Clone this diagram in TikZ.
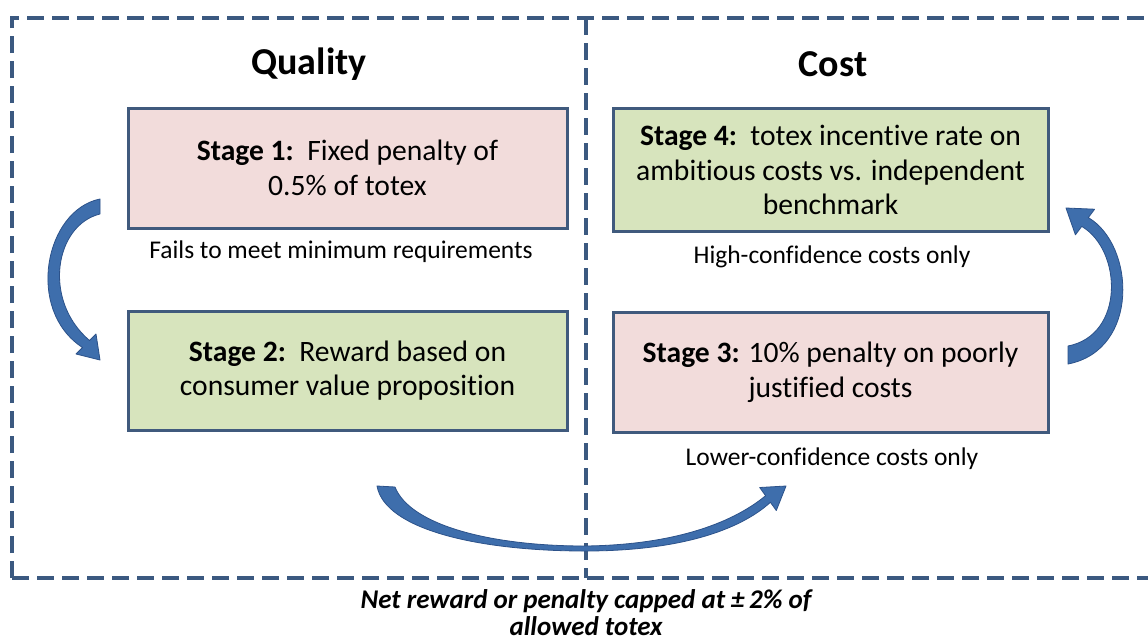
\documentclass[tikz,border=0pt]{standalone}
\usepackage{fontspec}
\setmainfont[Ligatures=NoCommon]{Carlito}
\definecolor{dashc}{RGB}{59,89,128}
\definecolor{boxline}{RGB}{64,90,125}
\definecolor{pinkf}{RGB}{242,220,219}
\definecolor{greenf}{RGB}{215,228,189}
\definecolor{arrowf}{RGB}{62,110,172}
\definecolor{arrowd}{RGB}{44,82,138}
\begin{document}
\begin{tikzpicture}[x=1pt,y=-1pt,
  frame/.style={draw=dashc, line width=3.5pt, dash pattern=on 17pt off 8pt},
  stagebox/.style={draw=boxline, line width=3pt, inner sep=0pt, align=center,
    font=\fontsize{29.6}{34.5}\selectfont},
  pinkbox/.style={stagebox, fill=pinkf},
  greenbox/.style={stagebox, fill=greenf},
  note/.style={font=\fontsize{25.5}{30}\selectfont, inner sep=0pt},
  heading/.style={font=\fontsize{38}{44}\selectfont\bfseries, inner sep=0pt},
  bigarrow/.style={fill=arrowf, draw=arrowd, line width=0.8pt, line join=round}]
\clip (0,0) rectangle (1148,641);
\fill[white] (0,0) rectangle (1148,641);

% dashed frame
\draw[frame] (12,578) -- (12,18) -- (1170,18);
\draw[frame] (12,578) -- (1170,578);
\draw[frame] (586,18) -- (586,578);

% headings
\node[heading] (qual) at (309,64) {Quality};
\node[heading] (cost) at (833,64) {Cost};

% boxes
\node[pinkbox, minimum width=439pt, minimum height=120pt] (s1) at (347.5,168)
  {\textbf{Stage 1:}\ \ Fixed penalty of\\0.5\% of totex};
\node[greenbox, minimum width=439pt, minimum height=119pt] (s2) at (347.5,370.5)
  {\textbf{Stage 2:}\ \ Reward based on\\consumer value proposition};
\node[greenbox, minimum width=435pt, minimum height=123pt] (s4) at (830.5,170)
  {\textbf{Stage 4:}\ \ totex incentive rate on\\ambitious costs vs. independent\\benchmark};
\node[pinkbox, minimum width=435pt, minimum height=120pt] (s3) at (830.5,372)
  {\textbf{Stage 3:} 10\% penalty on poorly\\justified costs};

% notes
\node[note] (n1) at (341,252) {Fails to meet minimum requirements};
\node[note] (n4) at (832,257) {High-confidence costs only};
\node[note] (n3) at (832,459) {Lower-confidence costs only};

% bottom caption
\node[font=\fontsize{27}{27}\selectfont\bfseries\itshape, align=center, inner sep=0pt, anchor=north]
  (cap) at (586,589) {Net reward or penalty capped at ±\,2\% of\\allowed totex};

% curved arrows
\coordinate (a1s) at (100,207);
\coordinate (a1e) at (100,360);
\draw[bigarrow] (100,199) .. controls (45,210) and (25,310) .. (82.5,347.5)
  -- (76,354) -- (a1e) -- (96,334) -- (89.5,340.5)
  .. controls (42,300) and (55,225) .. (100,214) -- cycle;

\coordinate (a2s) at (378,487);
\coordinate (a2e) at (786,486);
\draw[bigarrow] (377,486) .. controls (385,530) and (480,551) .. (585,551)
  .. controls (680,551) and (740,530) .. (770.4,502.3)
  -- (776.3,510.5) -- (a2e) -- (759.7,487.5) -- (765.6,495.7)
  .. controls (730,525) and (670,545) .. (585,546)
  .. controls (490,546) and (410,525) .. (395,487) -- cycle;

\coordinate (a3s) at (1068,355);
\coordinate (a3e) at (1066,208);
\draw[bigarrow] (1068,364) .. controls (1140,350) and (1135,245) .. (1088.3,217.6)
  -- (1094.6,209.2) -- (a3e) -- (1075.4,234.8) -- (1081.7,226.4)
  .. controls (1122,250) and (1125,335) .. (1068,346) -- cycle;
\end{tikzpicture}
\end{document}
